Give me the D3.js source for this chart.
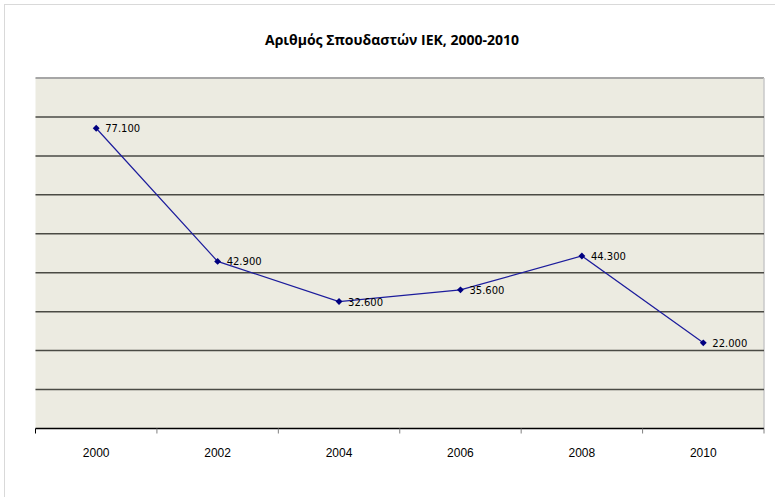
<!DOCTYPE html>
<html>
<head>
<meta charset="utf-8">
<script src="https://cdn.jsdelivr.net/npm/d3@7"></script>
<style>
  html, body { margin: 0; padding: 0; background: #ffffff; }
  svg { display: block; }
</style>
</head>
<body>
<svg id="chart" width="775" height="497"></svg>
<script>
// Students enrolled in IEK, every second year
const years = ["2000", "2002", "2004", "2006", "2008", "2010"];
const students = [77100, 42900, 32600, 35600, 44300, 22000];
const yTicks = [10000, 20000, 30000, 40000, 50000, 60000, 70000, 80000];
const titleText = "Αριθμός Σπουδαστών ΙΕΚ, 2000-2010";

const svg = d3.select("#chart");
const W = 775, H = 497;
const plot = { left: 35.5, right: 764, top: 78, bottom: 428.5 };

// Outer chart frame
svg.append("rect")
  .attr("x", 4.5).attr("y", 4.5)
  .attr("width", W + 10).attr("height", H + 10)
  .attr("fill", "#ffffff").attr("stroke", "#d9d9d9").attr("stroke-width", 1);

const x = d3.scaleBand().domain(years).range([plot.left, plot.right]).padding(0);
const y = d3.scaleLinear().domain([0, 90000]).range([plot.bottom, plot.top]);

// Plot area
svg.append("rect")
  .attr("x", plot.left).attr("y", plot.top)
  .attr("width", plot.right - plot.left).attr("height", plot.bottom - plot.top)
  .attr("fill", "#ecebe1");

// Top and right edges of the plot area
svg.append("line")
  .attr("x1", plot.left).attr("x2", plot.right)
  .attr("y1", plot.top).attr("y2", plot.top)
  .attr("stroke", "#a6a6a6").attr("stroke-width", 2);
svg.append("line")
  .attr("x1", plot.right).attr("x2", plot.right)
  .attr("y1", plot.top).attr("y2", plot.bottom)
  .attr("stroke", "#c8c8c8").attr("stroke-width", 1.5);

// Horizontal gridlines
svg.append("g")
  .selectAll("line")
  .data(yTicks)
  .join("line")
  .attr("x1", plot.left).attr("x2", plot.right)
  .attr("y1", d => y(d)).attr("y2", d => y(d))
  .attr("stroke", "#4a4a44").attr("stroke-width", 1.5);

// Category axis with ticks on the band boundaries
const xAxis = svg.append("g").attr("transform", `translate(0,${plot.bottom})`);
xAxis.append("line")
  .attr("x1", plot.left).attr("x2", plot.right)
  .attr("stroke", "#000").attr("stroke-width", 1.5);
xAxis.selectAll("line.tick")
  .data(years.concat(["end"]))
  .join("line")
  .attr("class", "tick")
  .attr("x1", (d, i) => i < years.length ? x(d) : plot.right)
  .attr("x2", (d, i) => i < years.length ? x(d) : plot.right)
  .attr("y1", 0).attr("y2", 5)
  .attr("stroke", (d, i) => i === 0 ? "#000" : "#808080")
  .attr("stroke-width", 1);
xAxis.selectAll("text")
  .data(years)
  .join("text")
  .attr("x", d => x(d) + x.bandwidth() / 2)
  .attr("y", 28)
  .attr("text-anchor", "middle")
  .attr("font-family", "Liberation Sans, Arial, sans-serif")
  .attr("font-size", 12)
  .attr("fill", "#000")
  .text(d => d);

// Series line
const cx = d => x(d) + x.bandwidth() / 2;
const line = d3.line().x((d, i) => cx(years[i])).y(d => y(d));
svg.append("path")
  .datum(students)
  .attr("d", line)
  .attr("fill", "none")
  .attr("stroke", "#1c1c9c")
  .attr("stroke-width", 1.2);

// Diamond markers
svg.append("g")
  .selectAll("path")
  .data(students)
  .join("path")
  .attr("transform", (d, i) => `translate(${cx(years[i])},${y(d)})`)
  .attr("d", d3.symbol(d3.symbolDiamond2, 30))
  .attr("fill", "#000080");

// Value labels with Greek thousands separator
const fmt = d3.formatLocale({ decimal: ",", thousands: ".", grouping: [3], currency: ["", " €"] }).format(",.0f");
svg.append("g")
  .selectAll("text")
  .data(students)
  .join("text")
  .attr("x", (d, i) => cx(years[i]) + 9)
  .attr("y", d => y(d) + 4)
  .attr("font-family", "DejaVu Sans, Verdana, sans-serif")
  .attr("font-size", 10)
  .attr("fill", "#000")
  .text(d => fmt(d));

// Title
svg.append("text")
  .attr("x", 392).attr("y", 45)
  .attr("text-anchor", "middle")
  .attr("font-family", "Open Sans, Liberation Sans, sans-serif")
  .attr("font-weight", "bold")
  .attr("font-size", 14)
  .attr("fill", "#000")
  .text(titleText);
</script>
</body>
</html>
